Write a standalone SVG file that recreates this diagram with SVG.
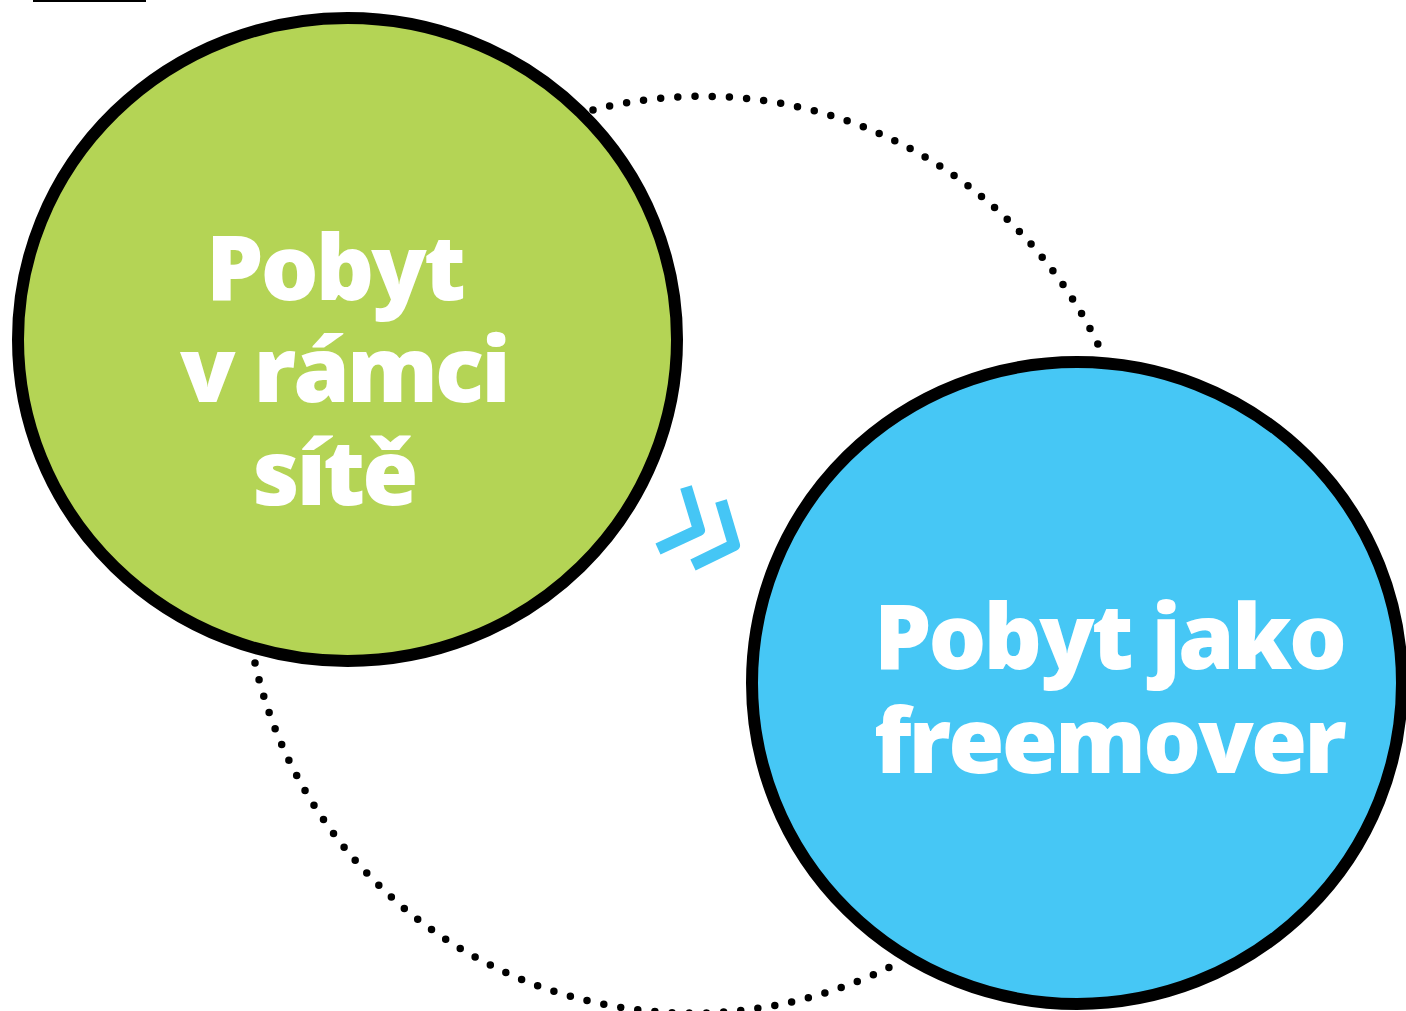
<svg xmlns="http://www.w3.org/2000/svg" width="1406" height="1011" viewBox="0 0 1406 1011">
<style>
.lbl{font-family:"Open Sans","Noto Sans",sans-serif;font-weight:800;font-size:91px;fill:#ffffff;text-anchor:middle;letter-spacing:-2.9px}
.dots{fill:none;stroke:#000;stroke-width:7.5;stroke-linecap:round;stroke-dasharray:0 17.2}
.chev{fill:none;stroke:#45c6f5;stroke-width:12;stroke-linejoin:round;stroke-linecap:butt}
</style>
<rect width="1406" height="1011" fill="#ffffff"/>
<rect x="33" y="0" width="113" height="2" fill="#000"/>
<g id="connectors">
<path class="dots" d="M593,110 A440,440 0 0 1 1103,355"/>
<path class="dots" d="M255,663 A448,448 0 0 0 900,962"/>
<path class="chev" d="M686,487 L699,530 L658,549"/>
<path class="chev" d="M721,501 L734,545 L693,565"/>
</g>
<g id="node-sit">
<ellipse cx="347.5" cy="339.5" rx="329.5" ry="321.5" fill="#b4d455" stroke="#000" stroke-width="12"/>
<text class="lbl" x="334.5" y="300">Pobyt</text>
<text class="lbl" x="344" y="402">v rámci</text>
<text class="lbl" x="334" y="505">sítě</text>
</g>
<g id="node-freemover">
<ellipse cx="1077" cy="683" rx="325" ry="321" fill="#46c7f5" stroke="#000" stroke-width="12"/>
<text class="lbl" x="1109" y="669">Pobyt jako</text>
<text class="lbl" x="1109" y="773">freemover</text>
</g>
</svg>
